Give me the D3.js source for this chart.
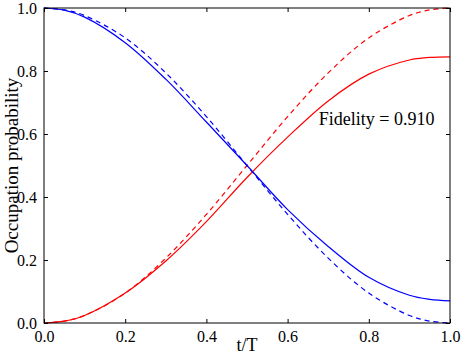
<!DOCTYPE html>
<html>
<head>
<meta charset="utf-8">
<script src="https://cdn.jsdelivr.net/npm/d3@7"></script>
<style>
  body { margin: 0; background: #fff; }
  svg text { font-family: "Liberation Serif", "DejaVu Serif", serif; fill: #000; }
</style>
</head>
<body>
<div id="chart"></div>
<script>
// values
const tValues = [0, 0.05, 0.1, 0.2, 0.3, 0.4, 0.5, 0.6, 0.7, 0.8, 0.9, 0.95, 1.0]
const blueSolid = [1.0, 0.993, 0.971, 0.89, 0.774, 0.638, 0.50, 0.36, 0.243, 0.145, 0.088, 0.075, 0.07]
const blueDashed = [1.0, 0.994, 0.976, 0.905, 0.794, 0.655, 0.50, 0.345, 0.206, 0.095, 0.024, 0.006, 0.0]
const redSolid = [0.0, 0.006, 0.024, 0.095, 0.197, 0.322, 0.462, 0.59, 0.705, 0.79, 0.835, 0.843, 0.845]
const redDashed = [0.0, 0.006, 0.024, 0.095, 0.206, 0.345, 0.50, 0.655, 0.794, 0.905, 0.976, 0.994, 1.0]
const xTicks = [0.0, 0.2, 0.4, 0.6, 0.8, 1.0]
const yTicks = [0.0, 0.2, 0.4, 0.6, 0.8, 1.0]
const fidelityLabel = 'Fidelity = 0.910'

const width = 463
const height = 357
const margin = { top: 8, right: 13, bottom: 34, left: 44 }
const w = width - margin.left - margin.right
const h = height - margin.top - margin.bottom

const svg = d3.select('#chart').append('svg')
  .attr('width', width)
  .attr('height', height)

const g = svg.append('g')
  .attr('transform', 'translate(' + margin.left + ',' + margin.top + ')')

const x = d3.scaleLinear().domain([0, 1]).range([0, w])
const y = d3.scaleLinear().domain([0, 1]).range([h, 0])

const line = d3.line()
  .x(d => x(d[0]))
  .y(d => y(d[1]))
  .curve(d3.curveCatmullRom.alpha(0.5))

let series = [
  { values: redDashed, color: '#ff0000', dash: '5,4' },
  { values: blueDashed, color: '#0000ff', dash: '5,4' },
  { values: redSolid, color: '#ff0000', dash: null },
  { values: blueSolid, color: '#0000ff', dash: null }
]

g.selectAll('.series')
  .data(series)
  .enter()
  .append('path')
  .attr('class', 'series')
  .attr('d', d => line(tValues.map((t, i) => [t, d.values[i]])))
  .attr('fill', 'none')
  .attr('stroke', d => d.color)
  .attr('stroke-width', 1.2)
  .attr('stroke-dasharray', d => d.dash)

// frame
g.append('rect')
  .attr('x', 0)
  .attr('y', 0)
  .attr('width', w)
  .attr('height', h)
  .attr('fill', 'none')
  .attr('stroke', '#000')
  .attr('stroke-width', 1)

// axes with inside ticks, mirrored on top and right
let fmt = d3.format('.1f')
let xAxis = g.append('g').attr('transform', 'translate(0,' + h + ')')
  .call(d3.axisBottom(x).tickValues(xTicks).tickFormat(fmt).tickSize(-4).tickPadding(8))
g.append('g')
  .call(d3.axisTop(x).tickValues(xTicks).tickFormat('').tickSize(-4))
let yAxis = g.append('g')
  .call(d3.axisLeft(y).tickValues(yTicks).tickFormat(fmt).tickSize(-4).tickPadding(7))
g.append('g').attr('transform', 'translate(' + w + ',0)')
  .call(d3.axisRight(y).tickValues(yTicks).tickFormat('').tickSize(-4))

g.selectAll('.domain').remove()
g.selectAll('.tick line').attr('stroke', '#000')
xAxis.selectAll('text').style('font-size', '16px')
yAxis.selectAll('text').style('font-size', '16px').attr('dy', '0.35em')

// annotation
g.append('text')
  .attr('x', x(0.677))
  .attr('y', y(0.627))
  .style('font-size', '18px')
  .text(fidelityLabel)

// axis titles
svg.append('text')
  .attr('x', margin.left + w / 2)
  .attr('y', 351)
  .attr('text-anchor', 'middle')
  .style('font-size', '18px')
  .text('t/T')

svg.append('text')
  .attr('transform', 'translate(18,' + (margin.top + h / 2) + ') rotate(-90)')
  .attr('text-anchor', 'middle')
  .style('font-size', '19px')
  .text('Occupation probability')
</script>
</body>
</html>
